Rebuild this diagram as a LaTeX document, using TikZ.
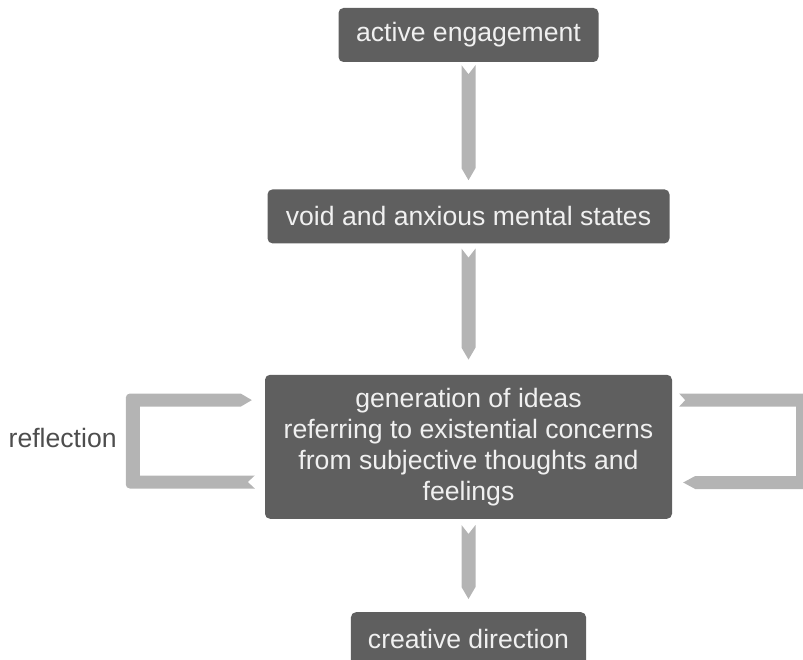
\documentclass[tikz,border=0pt]{standalone}
\usepackage{fontspec}
\setmainfont{Liberation Sans}
\usepackage{xcolor}
\usepackage{tikz}
\usetikzlibrary{positioning,calc}

\definecolor{boxgray}{HTML}{5F5F5F}
\definecolor{bandgray}{HTML}{B4B4B4}
\definecolor{txtgray}{HTML}{4D4D4D}

\begin{document}
\begin{tikzpicture}[
  x=1pt, y=1pt,
  stage/.style={rectangle, rounded corners=5pt, fill=boxgray, text=white!94!black,
                minimum height=54pt, inner xsep=17pt, align=center,
                font=\fontsize{26.6}{31}\selectfont},
  band/.style={fill=bandgray},
  lbl/.style={text=txtgray, inner sep=0pt, font=\fontsize{26.6}{31}\selectfont}]
  \clip (0,0) rectangle (803,-660);
  \node[stage, minimum width=260pt] (act) at (468.5,-35) {active engagement};
  \node[stage, minimum width=402pt, below=127pt of act] (void) {void and anxious mental states};
  \node[stage, minimum width=407pt, minimum height=144pt, below=131pt of void] (gen)
    {generation of ideas\\referring to existential concerns\\from subjective thoughts and\\feelings};
  \node[stage, minimum width=233pt, below=93pt of gen] (dir) {creative direction};
  \node[lbl, left=148pt of gen.west, yshift=9pt] (refl) {reflection};
  % straight connectors
  \fill[band] ([xshift=-7pt,yshift=-3pt]act.south) -- ([yshift=-12pt]act.south)
    -- ([xshift=7pt,yshift=-3pt]act.south) -- ([xshift=7pt,yshift=21pt]void.north)
    -- ([yshift=9pt]void.north) -- ([xshift=-7pt,yshift=21pt]void.north) -- cycle;
  \fill[band] ([xshift=-7pt,yshift=-5pt]void.south) -- ([yshift=-14pt]void.south)
    -- ([xshift=7pt,yshift=-5pt]void.south) -- ([xshift=7pt,yshift=27pt]gen.north)
    -- ([yshift=15pt]gen.north) -- ([xshift=-7pt,yshift=27pt]gen.north) -- cycle;
  \fill[band] ([xshift=-7pt,yshift=-6pt]gen.south) -- ([yshift=-15pt]gen.south)
    -- ([xshift=7pt,yshift=-6pt]gen.south) -- ([xshift=7pt,yshift=25pt]dir.north)
    -- ([yshift=13pt]dir.north) -- ([xshift=-7pt,yshift=25pt]dir.north) -- cycle;
  % reflection loops
  \fill[band] ($(gen.south west)+(-10,30.5)$) -- ($(gen.south west)+(-17,37)$)
    -- ($(gen.south west)+(-10,43.5)$) -- ($(gen.south west)+(-125,43.5)$)
    -- ($(gen.north west)+(-125,-32)$) -- ($(gen.north west)+(-24,-32)$)
    -- ($(gen.north west)+(-13,-25.5)$) -- ($(gen.north west)+(-24,-19)$)
    [rounded corners=4pt] -- ($(gen.north west)+(-139,-19)$)
    -- ($(gen.south west)+(-139,30.5)$) [sharp corners] -- cycle;
  \fill[band] ($(gen.north east)+(7,-19)$) -- ($(gen.north east)+(13,-25.5)$)
    -- ($(gen.north east)+(7,-32)$) -- ($(gen.north east)+(124,-32)$)
    -- ($(gen.south east)+(124,43)$) -- ($(gen.south east)+(23,43)$)
    -- ($(gen.south east)+(11,36.5)$) -- ($(gen.south east)+(23,30)$)
    -- ($(gen.south east)+(138,30)$) -- ($(gen.north east)+(138,-19)$) -- cycle;
\end{tikzpicture}
\end{document}
